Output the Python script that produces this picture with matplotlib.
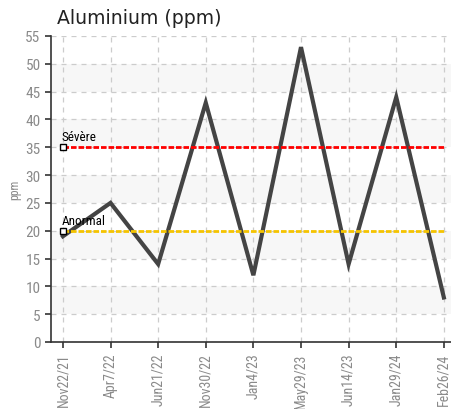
import matplotlib
matplotlib.use("Agg")
import matplotlib.pyplot as plt

dates = ["Nov22/21", "Apr7/22", "Jun21/22", "Nov30/22", "Jan4/23",
         "May29/23", "Jun14/23", "Jan29/24", "Feb26/24"]
values = [19, 25, 14, 43, 12, 53, 14, 44, 8]
limit_names = ["Sévère", "Anormal"]
limit_values = [35, 20]
limit_colors = ["#ff0000", "#f5c400"]

plt.rcParams['font.family'] = ['Roboto Condensed', 'Liberation Sans Narrow', 'DejaVu Sans']
plt.rcParams['font.stretch'] = 'condensed'

fig = plt.figure(figsize=(4.51, 4.10), dpi=100)
ax = fig.add_axes([51 / 451, 1 - 343 / 410, 400 / 451, 306 / 410])

x = list(range(len(dates)))

# alternating bands
for lo in range(5, 55, 10):
    ax.axhspan(lo, lo + 5, color="#f7f7f7", zorder=0, lw=0)

ax.set_xlim(-0.25, len(dates) - 1 + 0.15)
ax.set_ylim(0, 55)
ax.set_yticks(range(0, 60, 5))
ax.set_xticks(x)
ax.set_xticklabels(dates, rotation=90)

ax.grid(True, color="#cccccc", linestyle=(0, (4, 4)), linewidth=0.9, zorder=1)
ax.set_axisbelow(True)

ax.plot(x, values, color="#444444", linewidth=3, zorder=3, solid_joinstyle="miter")

for name, val, col in zip(limit_names, limit_values, limit_colors):
    ax.plot([x[0], x[-1]], [val, val], color=col, linewidth=2,
            linestyle=(0, (2, 0.7)), zorder=4)
    ax.plot([x[0]], [val], marker="s", markersize=4.5, markerfacecolor="white",
            markeredgecolor="black", markeredgewidth=1, zorder=5)
    ax.text(x[0] - 0.02, val + 0.7, name, fontsize=9.5, color="black",
            ha="left", va="bottom", zorder=6)

for s in ["top", "right"]:
    ax.spines[s].set_visible(False)
for s in ["left", "bottom"]:
    ax.spines[s].set_color("#333333")
    ax.spines[s].set_linewidth(1.2)

ax.tick_params(axis="both", colors="#333333", labelcolor="#8a8a8a",
               length=4, width=1.2, direction="out")
ax.tick_params(axis="y", labelsize=11)
ax.tick_params(axis="x", labelsize=10)

ax.set_ylabel("ppm", fontsize=8.5, color="#8a8a8a", labelpad=3)
fig.text(57 / 451, 1 - 18 / 410, "Aluminium (ppm)", fontsize=13.6,
         color="#222222", ha="left", va="center", family="DejaVu Sans",
         stretch="normal")

fig.savefig("out.png", dpi=100)
